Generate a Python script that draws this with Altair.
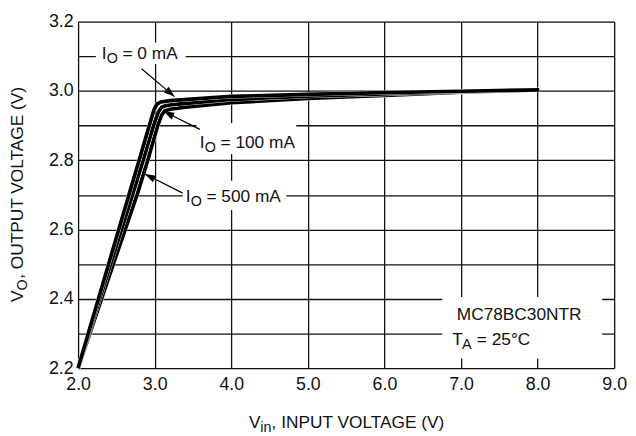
import math
import altair as alt
import pandas as pd

FONT = "Liberation Sans, Arial, Helvetica, sans-serif"

# ---- data ----
VIN_0 = [2.0, 2.398, 2.664, 2.797, 2.93, 2.99, 3.03, 3.08, 3.2, 4.0, 5.0, 6.0, 7.0, 8.02]
VO_0 = [2.2, 2.5, 2.7, 2.8, 2.9, 2.945, 2.962, 2.968, 2.972, 2.984, 2.99, 2.995, 2.999, 3.003]
VIN_100 = [2.0, 2.424, 2.71, 2.85, 2.985, 3.05, 3.09, 3.15, 3.3, 4.0, 5.0, 6.0, 7.0, 8.02]
VO_100 = [2.2, 2.5, 2.7, 2.8, 2.9, 2.94, 2.953, 2.958, 2.962, 2.975, 2.985, 2.991, 2.998, 3.003]
VIN_500 = [2.0, 2.46, 2.77, 2.91, 3.04, 3.09, 3.13, 3.2, 3.4, 4.0, 5.0, 6.0, 7.0, 8.02]
VO_500 = [2.2, 2.5, 2.7, 2.8, 2.9, 2.93, 2.942, 2.947, 2.953, 2.966, 2.978, 2.987, 2.996, 3.003]

X_TICKS = [2, 3, 4, 5, 6, 7, 8, 9]
Y_TICKS = [2.2, 2.3, 2.4, 2.5, 2.6, 2.7, 2.8, 2.9, 3.0, 3.1, 3.2]

LOAD_TEXT = ["= 0 mA", "= 100 mA", "= 500 mA"]
LOAD_X = [2.309, 3.589, 3.405]
LOAD_Y = [3.0926, 2.836, 2.6795]

BOX_X1 = [2.232, 3.546, 3.366, 6.755]
BOX_X2 = [3.405, 4.848, 4.719, 8.843]
BOX_Y1 = [3.140, 2.907, 2.741, 2.405]
BOX_Y2 = [3.0775, 2.818, 2.656, 2.228]

ARROW_X1 = [2.829, 3.590, 3.366]
ARROW_Y1 = [3.064, 2.889, 2.705]
ARROW_X2 = [3.259, 3.115, 2.872]
ARROW_Y2 = [2.9835, 2.941, 2.760]

INFO_LINE1 = "MC78BC30NTR"
INFO_X = [6.945, 6.884]
INFO_Y = [2.3376, 2.2664]
INFO_T = "T"
INFO_SUB = "A"
INFO_REST = "= 25°C"

XTITLE = ["V", "in", ", INPUT VOLTAGE (V)"]
YTITLE = ["V", "O", ", OUTPUT VOLTAGE (V)"]

# ---- layout ----
W, H = 543, 351
PXX = W / 7.0
PXY = H / 1.0

xs = alt.Scale(domain=[2, 9], nice=False, zero=False)
ys = alt.Scale(domain=[2.2, 3.2], nice=False, zero=False)

xaxis = alt.Axis(values=X_TICKS, format=".1f", title=None, grid=True, ticks=False,
                 domain=False, labelFont=FONT, labelFontSize=18, labelPadding=8,
                 labelColor="#111", gridColor="#111", gridWidth=1.3,
                 labelFlush=False, labelOverlap=False)
yaxis = alt.Axis(values=Y_TICKS, title=None, grid=True, ticks=False, domain=False,
                 labelExpr="(round(datum.value*10) % 2 == 0) ? format(datum.value, '.1f') : ''",
                 labelFont=FONT, labelFontSize=18, labelPadding=5, labelColor="#111",
                 gridColor="#111", gridWidth=1.3, labelOverlap=False, labelFlush=False)


def X(f="x"):
    return alt.X(f"{f}:Q", scale=xs, axis=xaxis)


def Y(f="y"):
    return alt.Y(f"{f}:Q", scale=ys, axis=yaxis)


layers = []

boxes = pd.DataFrame({"x": BOX_X1, "x2": BOX_X2, "y": BOX_Y1, "y2": BOX_Y2})
layers.append(alt.Chart(boxes).mark_rect(color="white").encode(
    x=X(), x2="x2:Q", y=Y(), y2="y2:Q"))

curves = [(VIN_500, VO_500), (VIN_100, VO_100), (VIN_0, VO_0)]
for vin, vo in curves:
    df = pd.DataFrame({"x": vin, "y": vo})
    layers.append(alt.Chart(df).mark_line(color="white", strokeWidth=4.4,
                                          strokeJoin="round").encode(x=X(), y=Y()))
    layers.append(alt.Chart(df).mark_line(color="black", strokeWidth=3.7,
                                          strokeJoin="round").encode(x=X(), y=Y()))

arr = pd.DataFrame({"x": ARROW_X1, "y": ARROW_Y1, "x2": ARROW_X2, "y2": ARROW_Y2})
arr["ang"] = [
    (math.degrees(math.atan2((b - a) * PXX, (d - c) * PXY)) + 360) % 360
    for a, b, c, d in zip(ARROW_X1, ARROW_X2, ARROW_Y1, ARROW_Y2)
]
layers.append(alt.Chart(arr).mark_rule(color="black", strokeWidth=1.2).encode(
    x=X(), y=Y(), x2="x2:Q", y2="y2:Q"))
layers.append(alt.Chart(arr).mark_point(
    shape="M0,0L0.34,1L-0.34,1Z", filled=True, color="black", opacity=1, size=480,
    strokeWidth=0).encode(
    x=X("x2"), y=Y("y2"), angle=alt.Angle("ang:Q", scale=None)))

lab = pd.DataFrame({"x": LOAD_X, "y": LOAD_Y, "rest": LOAD_TEXT})
txt = dict(align="left", baseline="alphabetic", font=FONT, color="#111")
layers.append(alt.Chart(lab).mark_text(fontSize=17.5, **txt).encode(
    x=X(), y=Y(), text=alt.value("I")))
layers.append(alt.Chart(lab).mark_text(fontSize=14.5, dx=5, dy=4, **txt).encode(
    x=X(), y=Y(), text=alt.value("O")))
layers.append(alt.Chart(lab).mark_text(fontSize=17.5, dx=21, **txt).encode(
    x=X(), y=Y(), text="rest:N"))

info1 = pd.DataFrame({"x": [INFO_X[0]], "y": [INFO_Y[0]], "t": [INFO_LINE1]})
info2 = pd.DataFrame({"x": [INFO_X[1]], "y": [INFO_Y[1]], "t": [INFO_T],
                      "s": [INFO_SUB], "r": [INFO_REST]})
layers.append(alt.Chart(info1).mark_text(fontSize=17.5, **txt).encode(
    x=X(), y=Y(), text="t:N"))
layers.append(alt.Chart(info2).mark_text(fontSize=17.5, **txt).encode(
    x=X(), y=Y(), text="t:N"))
layers.append(alt.Chart(info2).mark_text(fontSize=14.5, dx=10, dy=4, **txt).encode(
    x=X(), y=Y(), text="s:N"))
layers.append(alt.Chart(info2).mark_text(fontSize=17.5, dx=25, **txt).encode(
    x=X(), y=Y(), text="r:N"))

# axis titles with subscripts
xt = pd.DataFrame({"a": [XTITLE[0]], "b": [XTITLE[1]], "c": [XTITLE[2]]})
XT_X, XT_Y = 173, 412
layers.append(alt.Chart(xt).mark_text(fontSize=17.5, **txt).encode(
    x=alt.value(XT_X), y=alt.value(XT_Y), text="a:N"))
layers.append(alt.Chart(xt).mark_text(fontSize=14.5, dx=11.5, dy=4, **txt).encode(
    x=alt.value(XT_X), y=alt.value(XT_Y), text="b:N"))
layers.append(alt.Chart(xt).mark_text(fontSize=17.5, dx=23, **txt).encode(
    x=alt.value(XT_X), y=alt.value(XT_Y), text="c:N"))

yt = pd.DataFrame({"a": [YTITLE[0]], "b": [YTITLE[1]], "c": [YTITLE[2]]})
YT_X, YT_Y = -56, 284
layers.append(alt.Chart(yt).mark_text(fontSize=17.5, angle=270, **txt).encode(
    x=alt.value(YT_X), y=alt.value(YT_Y), text="a:N"))
layers.append(alt.Chart(yt).mark_text(fontSize=14.5, angle=270, dx=11.5, dy=4, **txt).encode(
    x=alt.value(YT_X), y=alt.value(YT_Y), text="b:N"))
layers.append(alt.Chart(yt).mark_text(fontSize=17.5, angle=270, dx=23.5, **txt).encode(
    x=alt.value(YT_X), y=alt.value(YT_Y), text="c:N"))

chart = alt.layer(*layers).properties(
    width=W, height=H,
    autosize=alt.AutoSizeParams(type="none"),
    padding={"left": 71, "top": 11, "right": 14, "bottom": 66},
).configure_view(stroke="#666", strokeWidth=1.5).configure(background="white")

chart.save("out.html", embed_options={"renderer": "svg", "actions": False})
